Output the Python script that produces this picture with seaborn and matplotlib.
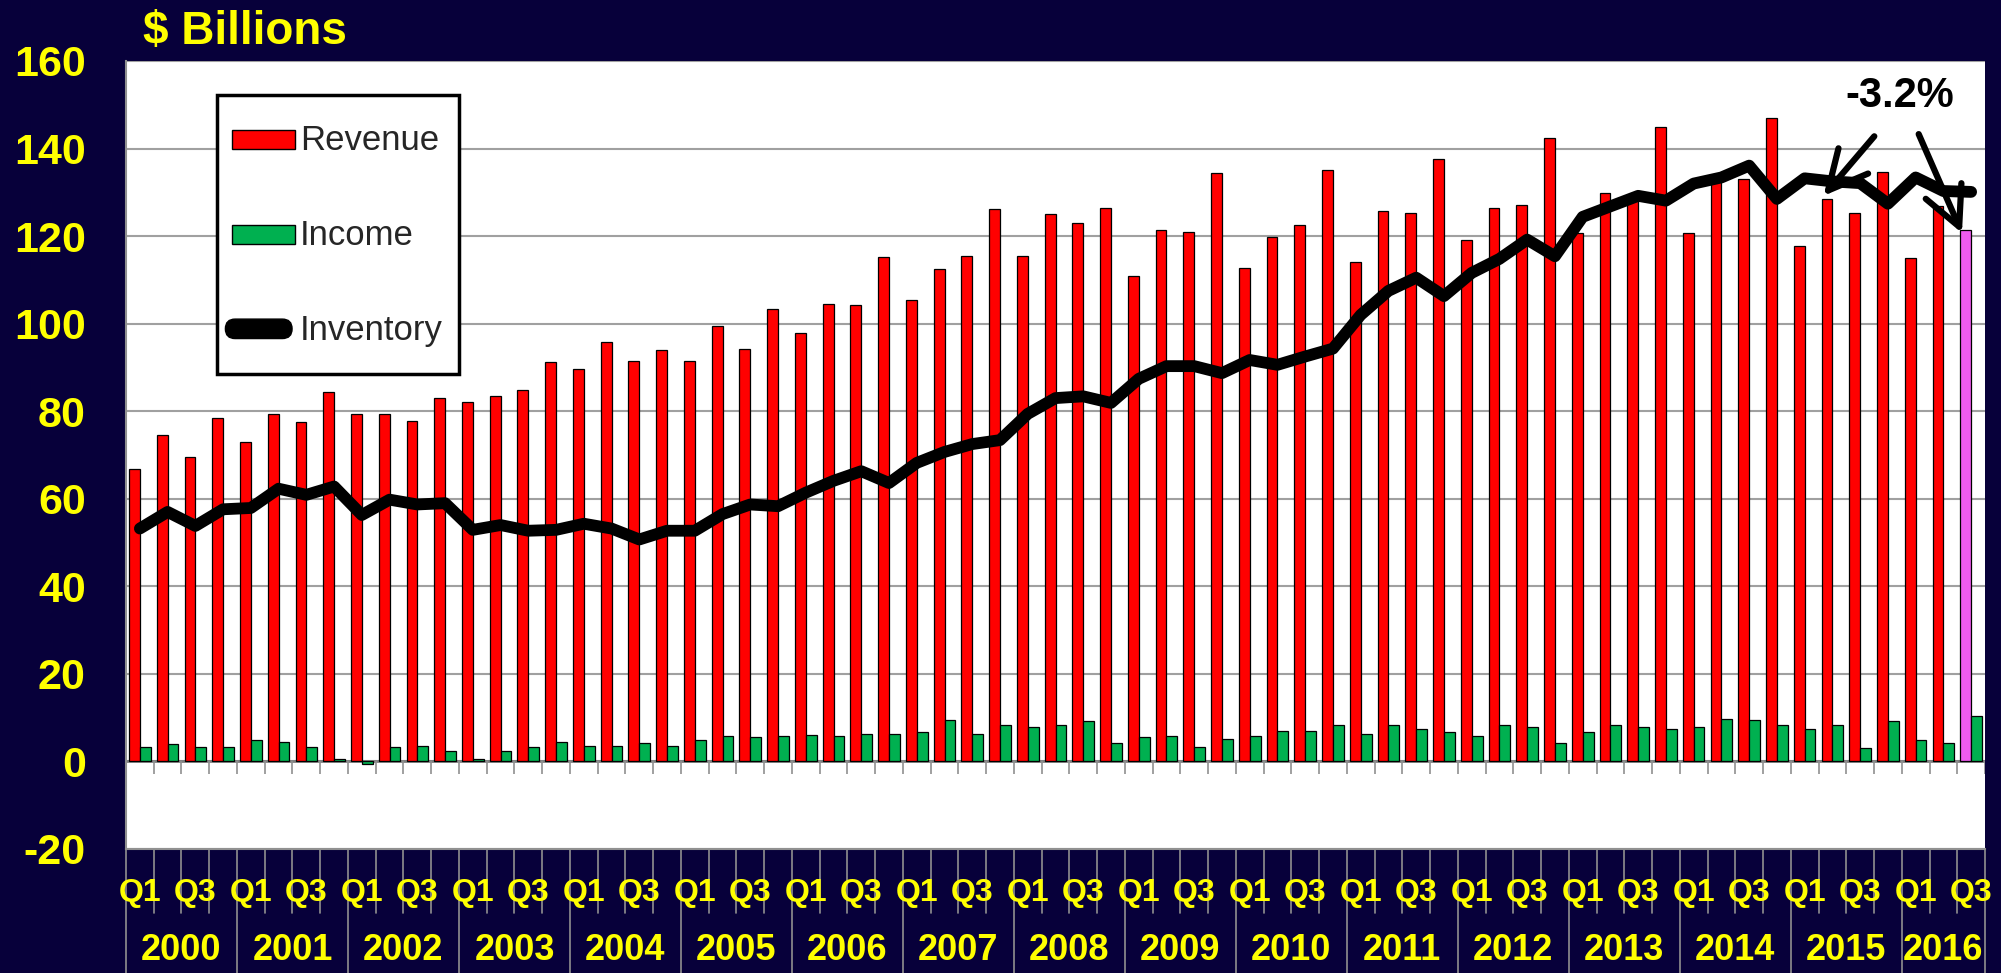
import numpy as np
import pandas as pd
import seaborn as sns
import matplotlib
matplotlib.use("Agg")
import matplotlib.pyplot as plt
import matplotlib.patches as mpatches
import matplotlib.transforms as mtrans
from matplotlib.legend_handler import HandlerPatch

years = list(range(2000, 2017))
quarters = [f"{y} Q{q}" for y in years for q in range(1, 5)][:67]

revenue = [66.8, 74.5, 69.6, 78.5,
           73.0, 79.4, 77.5, 84.5,
           79.4, 79.4, 77.8, 83.0,
           82.1, 83.4, 84.8, 91.3,
           89.7, 95.9, 91.5, 94.0,
           91.5, 99.5, 94.2, 103.4,
           97.8, 104.6, 104.3, 115.2,
           105.5, 112.4, 115.5, 126.2,
           115.5, 125.0, 123.1, 126.5,
           111.0, 121.4, 121.0, 134.4,
           112.8, 119.8, 122.5, 135.1,
           114.1, 125.8, 125.2, 137.7,
           119.2, 126.5, 127.0, 142.5,
           120.6, 129.8, 128.5, 145.0,
           120.6, 132.5, 133.0, 146.9,
           117.7, 128.5, 125.2, 134.6,
           114.9, 126.8, 121.4]

income = [3.3, 3.9, 3.3, 3.3,
          5.0, 4.5, 3.3, 0.5,
          -0.5, 3.3, 3.6, 2.3,
          0.5, 2.3, 3.3, 4.5,
          3.6, 3.6, 4.3, 3.6,
          5.0, 5.7, 5.5, 5.7,
          6.0, 5.7, 6.3, 6.3,
          6.7, 9.4, 6.3, 8.3,
          7.9, 8.3, 9.2, 4.3,
          5.6, 5.8, 3.4, 5.1,
          5.8, 7.0, 7.0, 8.3,
          6.3, 8.3, 7.3, 6.7,
          5.8, 8.3, 7.9, 4.3,
          6.7, 8.3, 7.9, 7.5,
          7.9, 9.7, 9.4, 8.3,
          7.5, 8.3, 3.1, 9.2,
          4.8, 4.3, 10.4]

inventory = [53.2, 57.0, 53.8, 57.6,
             57.9, 62.3, 60.9, 62.8,
             56.3, 59.8, 58.7, 59.0,
             52.9, 54.0, 52.7, 52.9,
             54.3, 53.2, 50.7, 52.7,
             52.7, 56.5, 58.7, 58.3,
             61.4, 64.1, 66.3, 63.6,
             68.2, 70.7, 72.5, 73.4,
             79.4, 83.0, 83.4, 81.9,
             87.4, 90.3, 90.3, 88.7,
             91.7, 90.6, 92.5, 94.3,
             102.0, 107.5, 110.5, 106.3,
             111.6, 114.8, 119.2, 115.4,
             124.4, 126.8, 129.2, 128.1,
             132.0, 133.4, 136.1, 128.5,
             133.2, 132.5, 132.1, 127.4,
             133.4, 130.3, 130.1]

NAVY = "#07003A"
YELLOW = "#FFFF00"
RED = "#FF0000"
GREEN = "#00B050"
VIOLET = "#EE5BEE"
GRID = "#A0A0A0"

n = len(quarters)
pos = np.arange(n)
long_df = pd.concat([
    pd.DataFrame({"pos": pos, "value": revenue, "series": "Revenue"}),
    pd.DataFrame({"pos": pos, "value": income, "series": "Income"}),
])

sns.set_style("white")
plt.rcParams["font.family"] = ["Liberation Sans", "DejaVu Sans"]
plt.rcParams["axes.unicode_minus"] = False

fig = plt.figure(figsize=(20.01, 9.73), dpi=100, facecolor=NAVY)
ax = fig.add_axes([126 / 2001, 124 / 973, 1859 / 2001, 788 / 973])
ax.set_facecolor("white")

sns.barplot(data=long_df, x="pos", y="value", hue="series", hue_order=["Revenue", "Income"],
            palette={"Revenue": RED, "Income": GREEN}, native_scale=True, width=0.78,
            saturation=1, errorbar=None, edgecolor="black", linewidth=0.9, legend=False,
            ax=ax, zorder=2)

# last quarter highlighted
last_bar = max(ax.containers[0], key=lambda p: p.get_x())
last_bar.set_facecolor(VIOLET)

sns.lineplot(x=pos, y=inventory, color="black", linewidth=8.5, ax=ax, legend=False, zorder=4)
ax.lines[-1].set_solid_joinstyle("round")
ax.lines[-1].set_solid_capstyle("round")

ax.set_xlim(-0.5, n - 0.5)
ax.set_ylim(-20, 160)
ax.set_yticks(range(-20, 161, 20))
ax.yaxis.grid(True, color=GRID, linewidth=1.5)
ax.set_axisbelow(True)
ax.axhline(0, color="#808080", linewidth=2, zorder=1.5)
ax.set_xticks([])
ax.set_xlabel("")
ax.set_ylabel("")
ax.tick_params(axis="y", colors="#909090", length=13, width=1.5, pad=16, labelcolor=YELLOW,
               labelsize=31)
for lab in ax.get_yticklabels():
    lab.set_fontweight("bold")
for s in ["top", "right"]:
    ax.spines[s].set_visible(False)
for s in ["left", "bottom"]:
    ax.spines[s].set_color("#909090")
    ax.spines[s].set_linewidth(1.5)

# category ticks on the zero line and below the plot
bounds = np.arange(-0.5, n, 1.0)
ax.vlines(bounds, -2.8, 0, color="#909090", linewidth=1.2, zorder=1.5)
trans = mtrans.blended_transform_factory(ax.transData, ax.transAxes)
for b in bounds:
    year_edge = (b + 0.5) % 4 == 0 or b == n - 0.5
    ax.plot([b, b], [0, -0.16 if year_edge else -0.081], transform=trans,
            color="#909090", linewidth=1.2, clip_on=False)

for i in range(0, n, 2):
    ax.text(i, -0.056, "Q1" if i % 4 == 0 else "Q3", transform=trans, ha="center", va="center",
            color=YELLOW, fontsize=23, fontweight="bold")
for k, y in enumerate(years):
    last = min(4 * k + 3, n - 1)
    ax.text((4 * k + last) / 2, -0.129, str(y), transform=trans, ha="center", va="center",
            color=YELLOW, fontsize=26, fontweight="bold")

fig.text(143 / 2001, 1 - 44 / 973, "$ Billions", ha="left", va="baseline", color=YELLOW,
         fontsize=33, fontweight="bold")

# legend


def small_rect(legend, orig_handle, xdescent, ydescent, width, height, fontsize):
    h = 0.55 * fontsize
    return mpatches.Rectangle((-xdescent, -ydescent + (height - h) / 2), width, h)


def thick_line(legend, orig_handle, xdescent, ydescent, width, height, fontsize):
    h = 14
    return mpatches.FancyBboxPatch((-xdescent - 5, -ydescent + (height - h) / 2),
                                   width + 3, h, boxstyle=f"round,pad=0,rounding_size={h / 2}")


rev_h = mpatches.Patch(facecolor=RED, edgecolor="black", linewidth=1, label="Revenue")
inc_h = mpatches.Patch(facecolor=GREEN, edgecolor="black", linewidth=1, label="Income")
inv_h = mpatches.Patch(facecolor="black", edgecolor="black", linewidth=1, label="Inventory")
leg = ax.legend(handles=[rev_h, inc_h, inv_h], loc="upper left", bbox_to_anchor=(0.0488, 0.957),
                borderaxespad=0, prop={"size": 25}, frameon=True, fancybox=False,
                edgecolor="black", framealpha=1, borderpad=0.45, handlelength=1.8,
                handleheight=2.2, labelspacing=1.05, handletextpad=0.15,
                handler_map={rev_h: HandlerPatch(patch_func=small_rect),
                             inc_h: HandlerPatch(patch_func=small_rect),
                             inv_h: HandlerPatch(patch_func=thick_line)})
leg.get_frame().set_linewidth(2.5)
leg.set_zorder(10)

# annotation
arrow = dict(arrowstyle="->,head_length=1.0,head_width=0.5", lw=4.5, color="black",
             mutation_scale=28, shrinkA=0, shrinkB=0)
ax.annotate("", xy=(60.68, 129.2), xytext=(62.51, 142.8), arrowprops=arrow, zorder=6)
ax.annotate("", xy=(65.67, 120.7), xytext=(64.11, 143.3), arrowprops=arrow, zorder=6)
ax.text(63.41, 152, "-3.2%", ha="center", va="center", fontsize=30, fontweight="bold",
        color="black", zorder=6)

fig.savefig("out.png", dpi=100, facecolor=NAVY)
